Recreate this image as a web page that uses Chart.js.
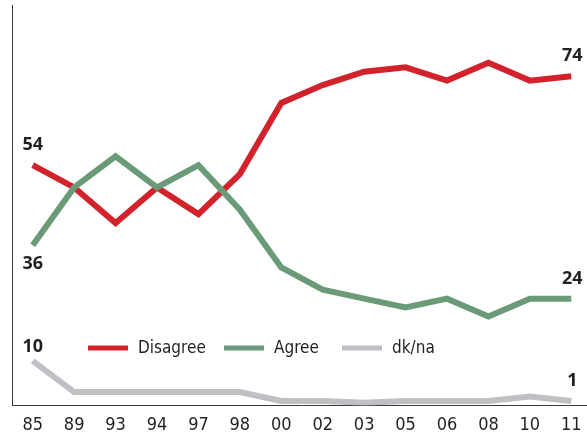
<!DOCTYPE html>
<html>
<head>
<meta charset="utf-8">
<script src="https://cdn.jsdelivr.net/npm/chart.js@4"></script>
<style>
  html, body { margin: 0; padding: 0; background: #fff; overflow: hidden; }
  #wrap { width: 592px; height: 435px; }
</style>
</head>
<body>
<div id="wrap"><canvas id="chart"></canvas></div>
<script>
const years = ['85', '89', '93', '94', '97', '98', '00', '02', '03', '05', '06', '08', '10', '11'];
const disagree = [54, 49, 41, 49, 43, 52, 68, 72, 75, 76, 73, 77, 73, 74];
const agree = [36, 49, 56, 49, 54, 44, 31, 26, 24, 22, 24, 20, 24, 24];
const dkna = [10, 3, 3, 3, 3, 3, 1, 1, 0.6, 1, 1, 1, 2, 1];
const seriesNames = ['Disagree', 'Agree', 'dk/na'];
const seriesColors = ['#d2232c', '#6a9a77', '#bfc0c4'];

const narrow = "'Liberation Sans Narrow', 'DejaVu Sans Condensed', sans-serif";

// end labels: first and last value of every line
const endLabels = {
    id: 'endLabels',
    afterDatasetsDraw(chart) {
        const ctx = chart.ctx;
        const firstOffsets = [-20, 19, -14];
        ctx.save();
        ctx.font = "bold 18px 'Noto Sans', sans-serif";
        ctx.fillStyle = '#231f20';
        ctx.textAlign = 'center';
        ctx.textBaseline = 'middle';
        chart.data.datasets.forEach((ds, i) => {
            const pts = chart.getDatasetMeta(i).data;
            const first = pts[0], last = pts[pts.length - 1];
            ctx.fillText(Math.round(ds.data[0]), first.x, first.y + firstOffsets[i]);
            ctx.fillText(Math.round(ds.data[ds.data.length - 1]), last.x + 1, last.y - 20);
        });
        ctx.restore();
    }
};

// legend drawn inside the plot, one row
const innerLegend = {
    id: 'innerLegend',
    afterDatasetsDraw(chart) {
        const ctx = chart.ctx;
        const xs = [88, 224, 342];
        const y = 348;
        ctx.save();
        ctx.font = '17px ' + narrow;
        ctx.textBaseline = 'middle';
        chart.data.datasets.forEach((ds, i) => {
            ctx.fillStyle = ds.borderColor;
            ctx.fillRect(xs[i], y - 2.5, 40, 5);
            ctx.fillStyle = '#231f20';
            ctx.fillText(ds.label, xs[i] + 50, y + 1);
        });
        ctx.restore();
    }
};

const datasets = [disagree, agree, dkna].map((vals, i) => ({
    label: seriesNames[i],
    data: vals,
    borderColor: seriesColors[i],
    backgroundColor: seriesColors[i],
    borderWidth: 6,
    pointRadius: 0,
    borderJoinStyle: 'miter',
    borderCapStyle: 'butt',
    tension: 0,
    fill: false,
    order: 2 - i
}));

new Chart(document.getElementById('chart'), {
    type: 'line',
    data: { labels: years, datasets: datasets },
    options: {
        responsive: true,
        maintainAspectRatio: false,
        animation: false,
        layout: { padding: { left: 12, right: 0, top: 5, bottom: -10 } },
        plugins: {
            legend: { display: false },
            tooltip: { enabled: false }
        },
        scales: {
            x: {
                offset: true,
                grid: { display: false, drawTicks: false },
                border: { display: true, color: '#3a3a3a', width: 1 },
                ticks: {
                    color: '#231f20',
                    font: { family: narrow, size: 18 },
                    padding: 9,
                    maxRotation: 0,
                    autoSkip: false
                }
            },
            y: {
                min: 0,
                max: 90,
                grid: { display: false, drawTicks: false },
                border: { display: true, color: '#3a3a3a', width: 1 },
                ticks: { display: false }
            }
        }
    },
    plugins: [endLabels, innerLegend]
});
</script>
</body>
</html>
